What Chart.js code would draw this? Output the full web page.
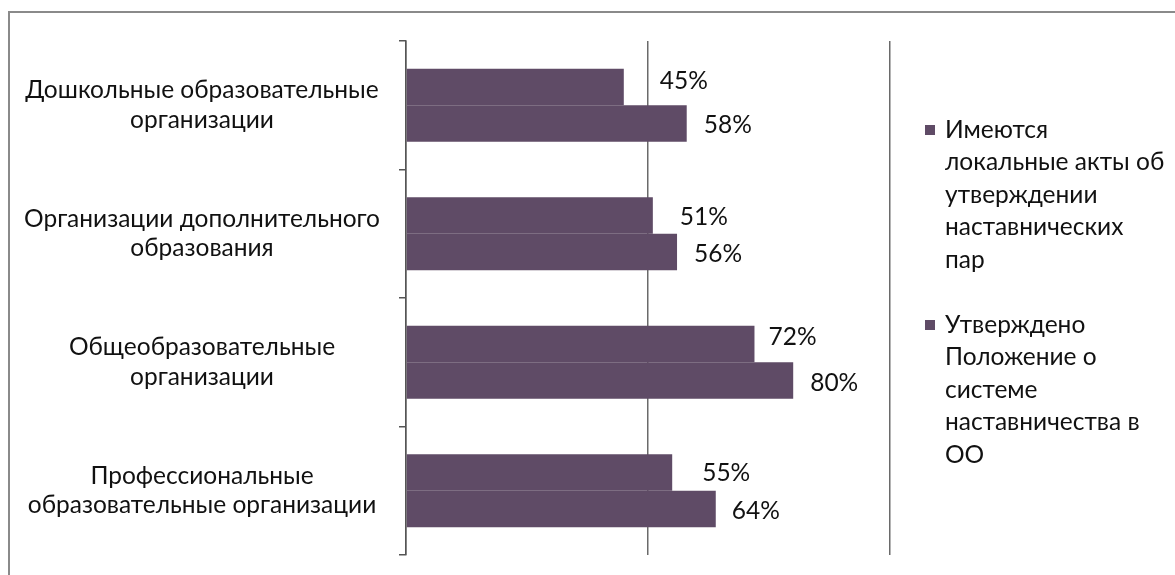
<!DOCTYPE html>
<html>
<head>
<meta charset="utf-8">
<script src="https://cdn.jsdelivr.net/npm/chart.js@4/dist/chart.umd.min.js"></script>
<style>
  html, body { margin: 0; padding: 0; background: #fff; }
  #wrap { width: 1175px; height: 575px; position: relative; }
</style>
</head>
<body>
<div id="wrap"><canvas id="c" width="1175" height="575"></canvas></div>
<script>
const categories = [
  ["Дошкольные образовательные", "организации"],
  ["Организации дополнительного", "образования"],
  ["Общеобразовательные", "организации"],
  ["Профессиональные", "образовательные организации"]
];
const seriesNames = [
  ["Имеются", "локальные акты об", "утверждении", "наставнических", "пар"],
  ["Утверждено", "Положение о", "системе", "наставничества в", "ОО"]
];
const seriesLocalActs = [45, 51, 72, 55];
const seriesRegulation = [58, 56, 80, 64];
const xTicks = [0, 50, 100];

const FONT = 'Lato, "Noto Sans", sans-serif';
const FSIZE = 24.5;
const BAR = '#5f4b66';
const TEXT = '#111';
const LEFT_PAD = 14;

const framePlugin = {
  id: 'frame',
  beforeDraw(chart) {
    const ctx = chart.ctx;
    ctx.save();
    ctx.fillStyle = '#fff';
    ctx.fillRect(0, 0, chart.width, chart.height);
    ctx.strokeStyle = '#8a8a8a';
    ctx.lineWidth = 2;
    ctx.beginPath();
    ctx.moveTo(chart.width, 12);
    ctx.lineTo(9, 12);
    ctx.lineTo(9, chart.height);
    ctx.stroke();
    ctx.restore();
  }
};

const labelPlugin = {
  id: 'valueLabels',
  afterDatasetsDraw(chart, args, opts) {
    const ctx = chart.ctx;
    ctx.save();
    ctx.font = opts.font;
    ctx.fillStyle = TEXT;
    ctx.textAlign = 'left';
    ctx.textBaseline = 'middle';
    chart.data.datasets.forEach((ds, di) => {
      const meta = chart.getDatasetMeta(di);
      meta.data.forEach((bar, i) => {
        const dx = opts.dx[di][i];
        const dy = opts.dy[di][i];
        ctx.fillText(ds.data[i] + '%', bar.x + dx, bar.y + dy);
      });
    });
    ctx.restore();
  }
};

const legendPlugin = {
  id: 'wrappedLegend',
  afterDraw(chart, args, opts) {
    const ctx = chart.ctx;
    ctx.save();
    ctx.font = opts.font;
    ctx.textBaseline = 'middle';
    ctx.textAlign = 'left';
    chart.data.datasets.forEach((ds, di) => {
      const lines = seriesNames[di];
      const y0 = opts.top[di];
      ctx.fillStyle = ds.backgroundColor;
      ctx.fillRect(opts.boxX, y0 - 5, 10, 10);
      ctx.fillStyle = TEXT;
      lines.forEach((ln, li) => {
        ctx.fillText(ln, opts.textX, y0 + li * opts.lineHeight);
      });
    });
    ctx.restore();
  }
};

new Chart(document.getElementById('c'), {
  type: 'bar',
  data: {
    labels: categories,
    datasets: [
      { label: seriesNames[0].join(' '), data: seriesLocalActs, backgroundColor: BAR,
        categoryPercentage: 0.57, barPercentage: 1.0 },
      { label: seriesNames[1].join(' '), data: seriesRegulation, backgroundColor: BAR,
        categoryPercentage: 0.57, barPercentage: 1.0 }
    ]
  },
  options: {
    indexAxis: 'y',
    responsive: false,
    devicePixelRatio: 1,
    animation: false,
    layout: { padding: { left: LEFT_PAD, top: 41, right: 285, bottom: 20 } },
    scales: {
      x: {
        min: 0, max: 100,
        afterBuildTicks(scale) { scale.ticks = xTicks.map(v => ({ value: v })); },
        afterFit(scale) { scale.height = 0; scale.paddingLeft = 0; scale.paddingRight = 0; },
        ticks: { display: false },
        grid: { color: '#6a6a6a', lineWidth: 1.5, drawTicks: false },
        border: { display: false }
      },
      y: {
        offset: true,
        afterFit(scale) { scale.width = 406 - LEFT_PAD; scale.paddingTop = 0; scale.paddingBottom = 0; },
        ticks: {
          crossAlign: 'center',
          padding: 19,
          color: TEXT,
          font: { family: FONT, size: FSIZE },
          lineHeight: 1.33
        },
        grid: { offset: true, drawOnChartArea: false, drawTicks: true, tickLength: 7,
                color: '#555', lineWidth: 1.5 },
        border: { display: true, color: '#555', width: 1.5 }
      }
    },
    plugins: {
      legend: { display: false },
      tooltip: { enabled: false },
      valueLabels: {
        font: FSIZE + 'px ' + FONT,
        dx: [[36, 27, 14, 30], [17, 17, 17, 16]],
        dy: [[-6, 2, -7, 1], [2, 2, 3, 2]]
      },
      wrappedLegend: {
        font: FSIZE + 'px ' + FONT,
        boxX: 925, textX: 945,
        top: [130, 325], lineHeight: 32.5
      }
    }
  },
  plugins: [framePlugin, labelPlugin, legendPlugin]
});
</script>
</body>
</html>
